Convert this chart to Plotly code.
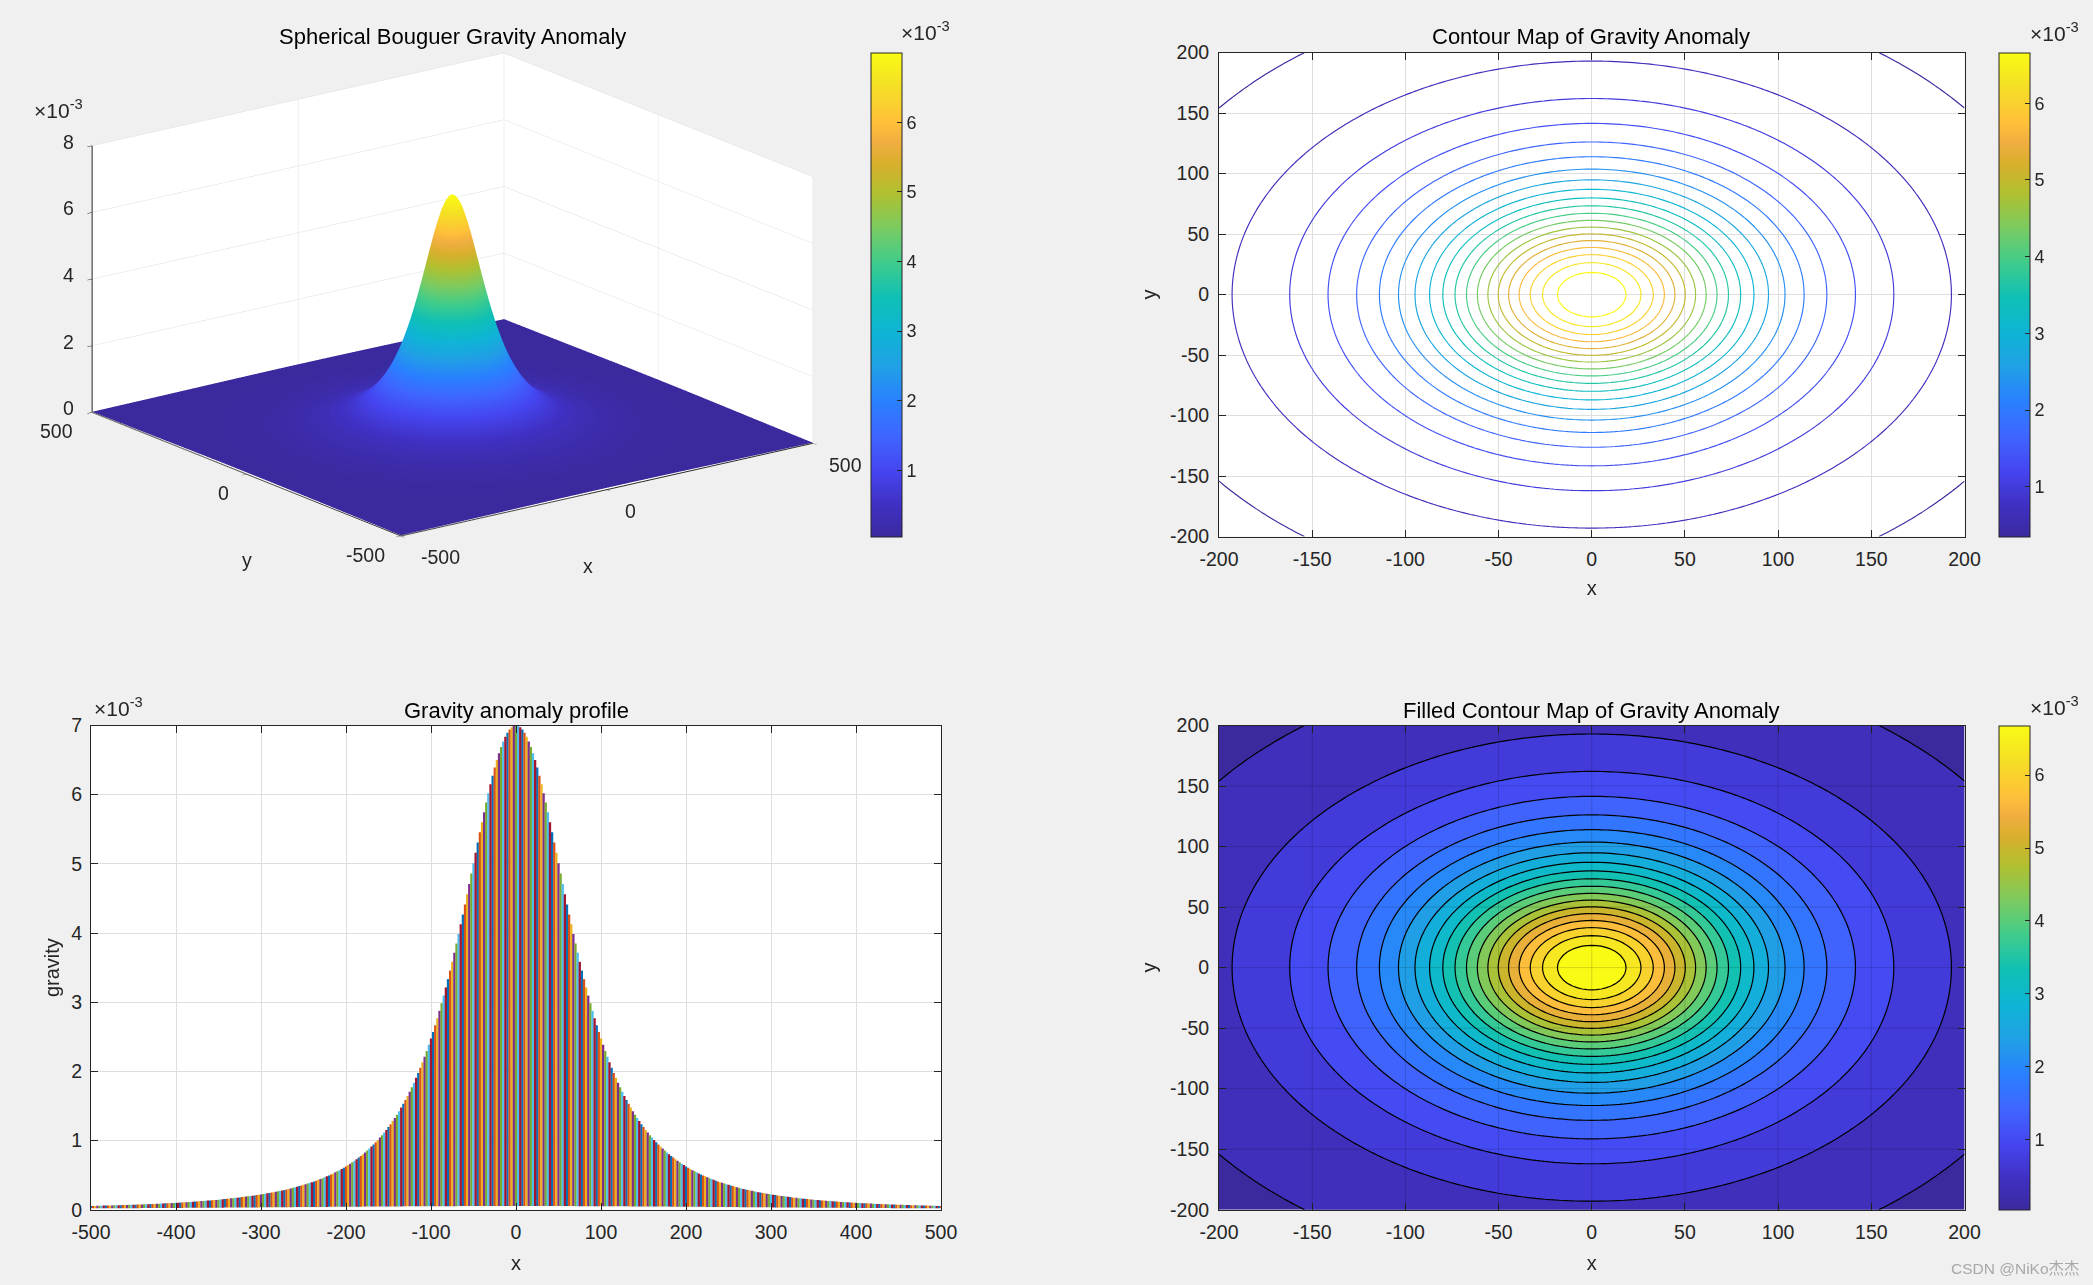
import numpy as np
import plotly.graph_objects as go

W, H = 2093, 1285
INK = "#262626"
GRID = "#dedede"
BG = "#f0f0f0"
FONT = "Liberation Sans"

# radial profile tabulated every 2.5 x-units (x>=0, units of 1e-3); estimate fitted by eye to the lower-left panel
profile_step = 2.5
profile_g = [
7.000,6.993,6.974,6.941,6.896,6.839,6.770,6.690,6.600,6.500,6.392,6.275,6.151,6.021,5.886,5.746,5.603,5.457,5.308,5.159,
5.009,4.859,4.709,4.561,4.414,4.269,4.126,3.986,3.849,3.715,3.584,3.457,3.333,3.213,3.096,2.984,2.875,2.769,2.667,2.569,
2.475,2.384,2.296,2.212,2.131,2.053,1.978,1.906,1.837,1.770,1.706,1.645,1.586,1.530,1.476,1.424,1.374,1.327,1.281,1.237,
1.195,1.154,1.115,1.078,1.042,1.008,0.975,0.943,0.912,0.883,0.855,0.828,0.802,0.777,0.753,0.730,0.707,0.686,0.665,0.645,
0.626,0.607,0.589,0.572,0.556,0.540,0.525,0.510,0.496,0.482,0.469,0.456,0.444,0.432,0.420,0.409,0.398,0.388,0.378,0.368,
0.359,0.350,0.341,0.332,0.324,0.316,0.308,0.301,0.293,0.286,0.279,0.273,0.266,0.260,0.254,0.248,0.243,0.237,0.232,0.226,
0.221,0.216,0.211,0.207,0.203,0.198,0.194,0.190,0.186,0.182,0.178,0.174,0.171,0.167,0.164,0.160,0.157,0.154,0.151,0.148,
0.145,0.142,0.140,0.137,0.134,0.132,0.129,0.127,0.124,0.122,0.120,0.118,0.115,0.113,0.111,0.109,0.107,0.105,0.103,0.102,
0.100,0.098,0.097,0.095,0.093,0.092,0.090,0.088,0.087,0.085,0.084,0.083,0.081,0.080,0.079,0.077,0.076,0.075,0.074,0.073,
0.072,0.071,0.070,0.069,0.068,0.067,0.066,0.065,0.064,0.063,0.062,0.061,0.060,0.060,0.059,0.058,0.057,0.056,0.055,0.054,
0.053]
# corner values of the surface beyond x=500
corner_r = [525, 550, 575, 600, 625, 650, 675, 710]
corner_g = [0.046, 0.040, 0.035, 0.031, 0.0276, 0.0246, 0.022, 0.019]

level_start, level_end, level_size = 0.35, 6.66, 0.332
contour_range = (0.35, 6.66)
filled_range = (0.04, 6.68)
surface_range = (0.05, 7.0)

# MATLAB line colour order used by the profile's vertical lines
line_colors = ["#0072BD", "#D95319", "#EDB120", "#7E2F8E", "#77AC30", "#4DBEEE", "#A2142F"]

# parula colour map as seen in the colourbars
parula = [[0.0, "#3a2a9e"], [0.065, "#4030c2"], [0.136, "#4545f0"], [0.21, "#3f66ff"], [0.28, "#2a80ff"],
          [0.352, "#20a0e5"], [0.424, "#0eb5d5"], [0.495, "#0fc0b5"], [0.567, "#3fcc8c"], [0.64, "#7ccb60"],
          [0.71, "#b0c030"], [0.77, "#d8b02c"], [0.815, "#f0ae40"], [0.855, "#ffc03a"], [0.93, "#f5df25"],
          [1.0, "#f9fb15"]]

xticks_3d = [-500, 0, 500]
zticks_3d = [0, 2, 4, 6, 8]
contour_ticks = list(range(-200, 201, 50))
profile_xticks = list(range(-500, 501, 100))
profile_yticks = list(range(0, 8))
cbar_ticks = [1, 2, 3, 4, 5, 6]

# field lookup: the picture is rotationally symmetric, so the grids are looked up in the radial table
table_r = np.concatenate([np.arange(len(profile_g)) * profile_step, corner_r])
table_g = np.concatenate([profile_g, corner_g])
def field(x, y):
    return np.interp(np.hypot(x, y), table_r, table_g)

sx = np.arange(-500, 500.1, 5.0)
SX, SY = np.meshgrid(sx, sx)
SZ = field(SX, SY)
cx = np.arange(-200, 200.1, 2.5)
CX, CY = np.meshgrid(cx, cx)
CZ = field(CX, CY)

half = np.arange(len(profile_g)) * profile_step
stem_x = np.concatenate([-half[::-1], half[1:]])
stem_top = np.array(list(profile_g[::-1]) + list(profile_g[1:]))
stem_base = field(stem_x, np.full_like(stem_x, 500.0))

def fx(px): return px / W
def fy(py): return 1 - py / H

def cbar(left, top, bottom):
    return dict(x=fx(left), xanchor="left", xpad=0, y=fy((top + bottom) / 2), yanchor="middle", ypad=0,
                lenmode="pixels", len=bottom - top, thicknessmode="pixels", thickness=31,
                tickvals=cbar_ticks, ticks="inside", ticklen=5, tickcolor=INK, tickwidth=1, tickprefix="\u00a0",
                outlinecolor=INK, outlinewidth=1, tickfont=dict(family=FONT, size=18, color=INK))

fig = go.Figure()

fig.add_trace(go.Surface(x=sx, y=sx, z=SZ, colorscale=parula, cmin=surface_range[0], cmax=surface_range[1],
                         lighting=dict(ambient=1, diffuse=0, specular=0, fresnel=0, roughness=1),
                         hoverinfo="skip", colorbar=cbar(870.5, 52.6, 536.6)))

# vertical lines of the profile, one trace per colour of the cycling line order
for k, colour in enumerate(line_colors):
    idx = np.arange(k, len(stem_x), 7)
    lx = np.column_stack([stem_x[idx], stem_x[idx], np.full(len(idx), np.nan)]).ravel()
    ly = np.column_stack([stem_base[idx], stem_top[idx], np.full(len(idx), np.nan)]).ravel()
    fig.add_trace(go.Scatter(x=lx, y=ly, mode="lines", line=dict(color=colour, width=2.3), xaxis="x", yaxis="y",
                             showlegend=False, hoverinfo="skip", connectgaps=False))

fig.add_trace(go.Contour(x=cx, y=cx, z=CZ, xaxis="x2", yaxis="y2", colorscale=parula,
                         zmin=contour_range[0], zmax=contour_range[1], autocontour=False,
                         contours=dict(start=level_start, end=level_end, size=level_size, coloring="lines"),
                         line=dict(width=1.15, smoothing=0), showscale=False))
fig.add_trace(go.Scatter(x=[0], y=[0], xaxis="x2", yaxis="y2", mode="markers", showlegend=False, hoverinfo="skip",
                         marker=dict(size=1, opacity=0, color=[1], colorscale=parula, cmin=contour_range[0], cmax=contour_range[1],
                                     showscale=True, colorbar=cbar(1998.7, 52.6, 536.6))))

half_band = level_size / 2
fig.add_trace(go.Contour(x=cx, y=cx, z=CZ, xaxis="x3", yaxis="y3", colorscale=parula,
                         zmin=filled_range[0] + half_band, zmax=filled_range[1] + half_band, autocontour=False,
                         contours=dict(start=level_start, end=level_end, size=level_size, coloring="fill", showlines=True),
                         line=dict(width=1.2, color="#000000", smoothing=0), showscale=False))
fig.add_trace(go.Scatter(x=[0], y=[0], xaxis="x3", yaxis="y3", mode="markers", showlegend=False, hoverinfo="skip",
                         marker=dict(size=1, opacity=0, color=[1], colorscale=parula, cmin=filled_range[0], cmax=filled_range[1],
                                     showscale=True, colorbar=cbar(1998.7, 725.5, 1209.7))))

def labels(vals):
    return [str(v) for v in vals]

def axis2d(domain, anchor, tickvals, rng, title, standoff, gap):
    return dict(domain=domain, anchor=anchor, range=rng, tickvals=tickvals, ticktext=labels(tickvals), showgrid=True, gridcolor=GRID,
                gridwidth=1, zeroline=False, showline=True, linecolor=INK, linewidth=1, mirror="allticks", ticks="inside",
                ticklen=7, tickcolor=INK, tickfont=dict(family=FONT, size=19.5, color=INK), ticklabelstandoff=gap,
                title=dict(text=title, standoff=standoff, font=dict(family=FONT, size=20, color=INK)))

fig.update_layout(
    width=W, height=H, autosize=False, margin=dict(l=0, r=0, t=0, b=0, pad=0, autoexpand=False), paper_bgcolor=BG, plot_bgcolor="#ffffff",
    showlegend=False, font=dict(family=FONT, color=INK),
    xaxis=axis2d([fx(91), fx(941)], "y", profile_xticks, [-500, 500], "x", 13, 5),
    yaxis=axis2d([fy(1209.7), fy(725.5)], "x", profile_yticks, [0, 7], "gravity", 6, 4),
    xaxis2=axis2d([fx(1219), fx(1964.5)], "y2", contour_ticks, [-200, 200], "x", 11, 5),
    yaxis2=axis2d([fy(536.6), fy(52.6)], "x2", contour_ticks, [-200, 200], "y", 8, 5),
    xaxis3=axis2d([fx(1219), fx(1964.5)], "y3", contour_ticks, [-200, 200], "x", 13, 5),
    yaxis3=axis2d([fy(1209.7), fy(725.5)], "x3", contour_ticks, [-200, 200], "y", 8, 5),
)

# the grid shows through the filled contours in the reference
for t in contour_ticks[1:-1]:
    fig.add_shape(type="line", xref="x3", yref="y3", x0=t, x1=t, y0=-200, y1=200, layer="above",
                  line=dict(color="rgba(0,0,0,0.15)", width=1))
    fig.add_shape(type="line", xref="x3", yref="y3", x0=-200, x1=200, y0=t, y1=t, layer="above",
                  line=dict(color="rgba(0,0,0,0.15)", width=1))

def axis3d(tickvals, rng):
    return dict(range=rng, tickvals=tickvals, showticklabels=False, title=dict(text=""), showgrid=True, gridcolor=GRID, gridwidth=1,
                showbackground=True, backgroundcolor="#ffffff", showline=True, linecolor=INK, linewidth=2, zeroline=False,
                showspikes=False, ticks="outside", ticklen=6, tickcolor=INK)

tfont = dict(family=FONT, size=19.5, color=INK)
scene_notes = []
for z in zticks_3d:
    scene_notes.append(dict(x=-500, y=500, z=z, text=str(z), xshift=-24, yshift=4))
for y, sh in zip(xticks_3d, [(-35, -19), (-23, -19), (-36, -19)]):
    scene_notes.append(dict(x=-500, y=y, z=0, text=str(y), xshift=sh[0], yshift=sh[1]))
for x, sh in zip(xticks_3d, [(40, -21), (24, -21), (33, -22)]):
    scene_notes.append(dict(x=x, y=-500, z=0, text=str(x), xshift=sh[0], yshift=sh[1]))
scene_notes.append(dict(x=-500, y=0, z=0, text="y", xshift=0, yshift=-86))
scene_notes.append(dict(x=0, y=-500, z=0, text="x", xshift=-19, yshift=-76))
for n in scene_notes:
    n.update(showarrow=False, font=tfont, xanchor="center", yanchor="middle")

eye_dist = 3.0
box = 1.748
fig.update_layout(scene=dict(
    domain=dict(x=[0, 905 / W], y=[fy(589.2), 1]),
    xaxis=axis3d(xticks_3d, [-500, 500]), yaxis=axis3d(xticks_3d, [-500, 500]), zaxis=axis3d(zticks_3d, [0, 8]),
    aspectmode="manual", aspectratio=dict(x=box, y=box, z=0.543 * box),
    camera=dict(projection=dict(type="orthographic"), center=dict(x=0, y=0, z=0), up=dict(x=0, y=0, z=1),
                eye=dict(x=-0.572 * eye_dist, y=-0.763 * eye_dist, z=0.3 * eye_dist)),
    annotations=scene_notes))

def note(cx_, cy_, text, size=22, color="#000000"):
    fig.add_annotation(xref="paper", yref="paper", x=fx(cx_), y=fy(cy_), text=text, showarrow=False,
                       xanchor="center", yanchor="middle", font=dict(family=FONT, size=size, color=color))

note(452.6, 36, "Spherical Bouguer Gravity Anomaly")
note(1591, 36, "Contour Map of Gravity Anomaly")
note(516.6, 710, "Gravity anomaly profile")
note(1591, 710, "Filled Contour Map of Gravity Anomaly")
exp_text = "×10<sup>-3</sup>"
for ex, ey in [(925, 31), (58, 109), (2054, 32), (118, 707), (2054, 706)]:
    note(ex, ey, exp_text, 21, INK)
fig.add_annotation(xref="paper", yref="paper", x=fx(2015), y=fy(1268), text="CSDN @NiKo杰杰", showarrow=False,
                   xanchor="center", yanchor="middle", font=dict(family="Liberation Sans, Noto Sans CJK SC", size=15.5, color="#a8a8a8"))

fig.write_html("out.html", config=dict(displayModeBar=False),
               post_script="document.body.style.margin='0';document.body.style.background='#f0f0f0';document.body.style.overflow='hidden';")
